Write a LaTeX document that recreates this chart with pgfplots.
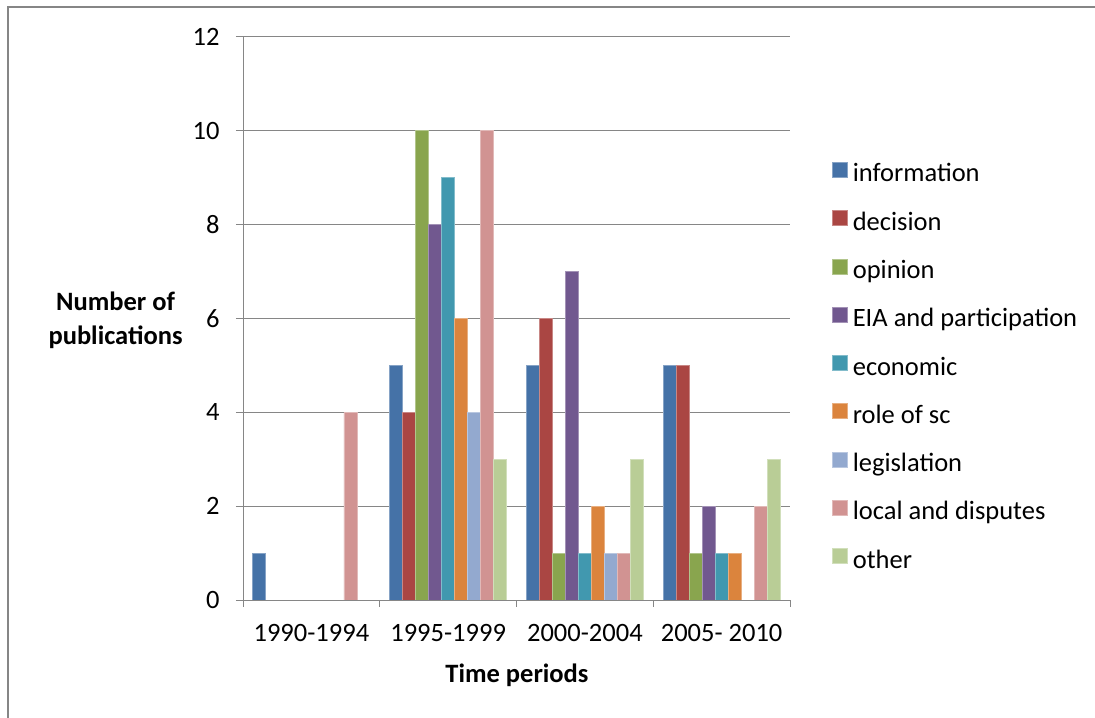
\documentclass[border=0pt]{standalone}
\usepackage{pgfplots}
\pgfplotsset{compat=1.18}
\usepackage{pgfplotstable}
\usepackage{fontspec}
\setmainfont{Carlito}

\definecolor{axgray}{HTML}{868686}
\definecolor{cInfo}{HTML}{4572A7}
\definecolor{cDec}{HTML}{AA4643}
\definecolor{cOpin}{HTML}{89A54E}
\definecolor{cEia}{HTML}{71588F}
\definecolor{cEcon}{HTML}{4198AF}
\definecolor{cRole}{HTML}{DB843D}
\definecolor{cLegis}{HTML}{93A9CF}
\definecolor{cLocal}{HTML}{D19392}
\definecolor{cOther}{HTML}{B9CD96}

% publications per period and theme
\pgfplotstableread{
x info dec opin eia econ role legis local other
0 1 0 0 0 0 0 0 4 0
1 5 4 10 8 9 6 4 10 3
2 5 6 1 7 1 2 1 1 3
3 5 5 1 2 1 1 0 2 3
}\pubs

\newcommand{\chartfont}{\fontsize{26.5bp}{31bp}\selectfont}

\begin{document}
\begin{tikzpicture}[font=\chartfont]
\useasboundingbox (0,0) rectangle (1095bp,718bp);
% chart frame (only top and left edges are in view)
\draw[axgray, line width=1.5bp] (8bp,-10bp) -- (8bp,711bp) -- (1110bp,711bp);
\begin{axis}[
  at={(243bp,118bp)}, anchor=south west,
  scale only axis, width=547bp, height=563bp,
  ybar=0pt, bar width=13.02bp,
  xmin=-0.5, xmax=3.5, ymin=0, ymax=12,
  ytick={0,2,...,12},
  xtick={0,1,2,3},
  xticklabels={1990-1994,1995-1999,2000-2004,2005- 2010},
  minor xtick={-0.5,0.5,1.5,2.5,3.5},
  major x tick style={draw=none},
  tick align=outside, tick pos=left,
  major tick length=7bp, minor tick length=7bp,
  every tick/.style={axgray, line width=1bp},
  ymajorgrids, grid style={axgray, line width=1bp},
  axis x line*=bottom, axis y line*=left,
  axis line style={-, axgray, line width=1bp},
  /pgf/number format/assume math mode=true,
  ticklabel style={font=\chartfont},
  xticklabel style={yshift=-14bp},
  yticklabel style={xshift=-13bp},
  xlabel={Time periods},
  xlabel style={font=\chartfont\bfseries, at={(axis description cs:0.5009,-0.133)}, anchor=center},
  ylabel={Number of\\publications},
  ylabel style={font=\fontsize{26.5bp}{34bp}\selectfont\bfseries, rotate=-90, align=center, at={(axis description cs:-0.2330,0.497)}, anchor=center},
  y filter/.expression={y==0 ? nan : y},
  unbounded coords=discard,
  legend cell align=left,
  legend style={draw=none, fill=none, inner sep=0pt, outer sep=0pt,
    at={(axis description cs:1.0768,0.778)}, anchor=north west,
    row sep=22.4bp, column sep=5bp,
    nodes={inner sep=0pt, text height=18bp, text depth=6bp},
    font=\chartfont},
  legend image code/.code={\fill[#1] (0bp,-1.5bp) rectangle (15bp,13.5bp);},
]
\addplot[fill=cInfo, draw=cInfo!65!white, line width=0.8bp] table[x=x, y=info] {\pubs};
\addlegendentry{information}
\addplot[fill=cDec, draw=cDec!65!white, line width=0.8bp] table[x=x, y=dec] {\pubs};
\addlegendentry{decision}
\addplot[fill=cOpin, draw=cOpin!65!white, line width=0.8bp] table[x=x, y=opin] {\pubs};
\addlegendentry{opinion}
\addplot[fill=cEia, draw=cEia!65!white, line width=0.8bp] table[x=x, y=eia] {\pubs};
\addlegendentry{EIA and participation}
\addplot[fill=cEcon, draw=cEcon!65!white, line width=0.8bp] table[x=x, y=econ] {\pubs};
\addlegendentry{economic}
\addplot[fill=cRole, draw=cRole!65!white, line width=0.8bp] table[x=x, y=role] {\pubs};
\addlegendentry{role of sc}
\addplot[fill=cLegis, draw=cLegis!65!white, line width=0.8bp] table[x=x, y=legis] {\pubs};
\addlegendentry{legislation}
\addplot[fill=cLocal, draw=cLocal!65!white, line width=0.8bp] table[x=x, y=local] {\pubs};
\addlegendentry{local and disputes}
\addplot[fill=cOther, draw=cOther!65!white, line width=0.8bp] table[x=x, y=other] {\pubs};
\addlegendentry{other}
\end{axis}
\end{tikzpicture}
\end{document}
